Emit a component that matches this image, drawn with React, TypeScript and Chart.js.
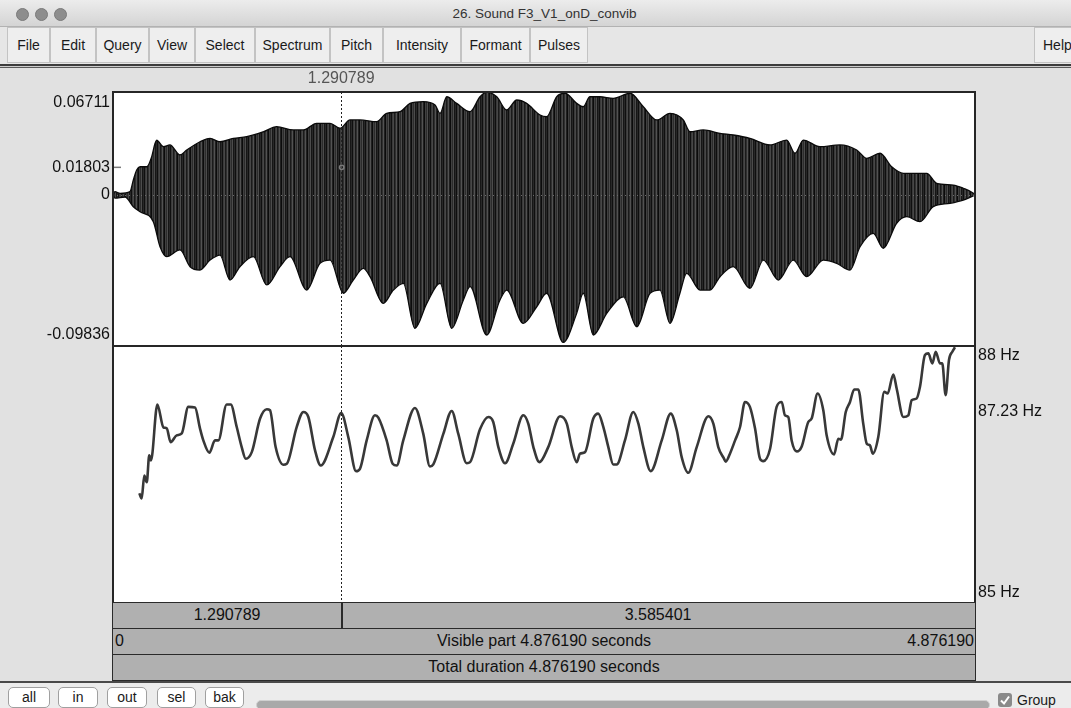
import React, { useEffect, useRef } from "react";
import { Chart, registerables } from "chart.js";
Chart.register(...registerables);

// ---------- data ----------
const DURATION = 4.87619;
const CURSOR = 1.290789;
const CURSOR_VALUE = 0.01803;
const WAVE_MIN = -0.09836;
const WAVE_MAX = 0.06711;
const waveTicks = [0.06711, 0.01803, 0, -0.09836];
const waveTickLabels = ["0.06711", "0.01803", "0", "-0.09836"];
const PITCH_MIN = 85;
const PITCH_MAX = 88;
const pitchTicks = [88, 87.23, 85];
const pitchTickLabels = ["88 Hz", "87.23 Hz", "85 Hz"];
const TITLE = "26. Sound F3_V1_onD_convib";
const menuItems = ["File", "Edit", "Query", "View", "Select", "Spectrum", "Pitch", "Intensity", "Formant", "Pulses"];
const toolButtons = ["all", "in", "out", "sel", "bak"];

// waveform envelope [time s, amplitude]
const waveUpper: [number, number][] = [
  [0, 0], [0.011, 0.0022], [0.04, 0.0011], [0.096, 0.0022], [0.115, 0.0098],
  [0.134, 0.0163], [0.153, 0.0184], [0.191, 0.0184], [0.219, 0.025], [0.238, 0.0337],
  [0.247, 0.0358], [0.285, 0.0315], [0.322, 0.0326], [0.379, 0.0261], [0.417, 0.0293],
  [0.492, 0.0347], [0.549, 0.0369], [0.605, 0.0347], [0.681, 0.0369], [0.756, 0.038],
  [0.85, 0.0412], [0.926, 0.0445], [1.02, 0.0424], [1.077, 0.0424], [1.152, 0.0467],
  [1.228, 0.0467], [1.284, 0.0435], [1.341, 0.0489], [1.397, 0.0489], [1.492, 0.0478],
  [1.548, 0.0532], [1.624, 0.0543], [1.68, 0.0597], [1.755, 0.0608], [1.822, 0.0586],
  [1.85, 0.0532], [1.888, 0.064], [1.944, 0.0597], [2.02, 0.0543], [2.076, 0.064],
  [2.114, 0.0671], [2.171, 0.064], [2.227, 0.0554], [2.284, 0.0619], [2.34, 0.0597],
  [2.416, 0.0521], [2.453, 0.051], [2.51, 0.064], [2.557, 0.0663], [2.623, 0.0597],
  [2.66, 0.0575], [2.698, 0.064], [2.755, 0.064], [2.83, 0.063], [2.925, 0.0663],
  [3.0, 0.0575], [3.076, 0.0489], [3.151, 0.0532], [3.226, 0.0489], [3.264, 0.0412],
  [3.339, 0.0424], [3.434, 0.0402], [3.509, 0.0391], [3.603, 0.0369], [3.717, 0.0326],
  [3.811, 0.0358], [3.858, 0.0272], [3.905, 0.0358], [3.999, 0.0315], [4.112, 0.0326],
  [4.207, 0.0293], [4.264, 0.0239], [4.339, 0.0272], [4.405, 0.0184], [4.471, 0.0141],
  [4.546, 0.0141], [4.603, 0.0141], [4.66, 0.0076], [4.753, 0.0065], [4.81, 0.0044],
  [4.867, 0.0011], [4.876, 0],
];
const waveLower: [number, number][] = [
  [0, 0], [0.011, -0.002], [0.068, -0.0013], [0.115, -0.0076], [0.153, -0.0109],
  [0.228, -0.0174], [0.266, -0.0337], [0.304, -0.0402], [0.379, -0.0358], [0.436, -0.0467],
  [0.492, -0.0489], [0.549, -0.0424], [0.605, -0.0391], [0.662, -0.0554], [0.718, -0.0467],
  [0.794, -0.0402], [0.87, -0.0586], [0.945, -0.0467], [1.001, -0.0402], [1.096, -0.0619],
  [1.171, -0.0445], [1.228, -0.0424], [1.303, -0.064], [1.359, -0.0554], [1.416, -0.0478],
  [1.454, -0.0532], [1.529, -0.0706], [1.586, -0.0619], [1.642, -0.0575], [1.708, -0.0868],
  [1.775, -0.0706], [1.85, -0.0575], [1.916, -0.0868], [1.982, -0.0684], [2.02, -0.0597],
  [2.114, -0.0912], [2.189, -0.0684], [2.227, -0.0619], [2.321, -0.0836], [2.397, -0.0728],
  [2.453, -0.064], [2.547, -0.096], [2.623, -0.0771], [2.66, -0.064], [2.717, -0.0912],
  [2.793, -0.0771], [2.887, -0.0663], [2.963, -0.0858], [3.038, -0.064], [3.094, -0.0619],
  [3.151, -0.0836], [3.207, -0.064], [3.245, -0.051], [3.321, -0.0619], [3.377, -0.0619],
  [3.434, -0.0532], [3.509, -0.0467], [3.603, -0.0608], [3.679, -0.0424], [3.764, -0.0554],
  [3.848, -0.0424], [3.924, -0.0532], [4.018, -0.0424], [4.094, -0.0445], [4.169, -0.0489],
  [4.226, -0.0337], [4.301, -0.025], [4.357, -0.0347], [4.433, -0.0184], [4.49, -0.0141],
  [4.565, -0.0174], [4.64, -0.0076], [4.735, -0.0054], [4.81, -0.0033], [4.876, 0],
];

// pitch contour [time s, Hz]
const pitchContour: [number, number][] = [
  [0.149, 86.281], [0.162, 86.219], [0.177, 86.488], [0.191, 86.41], [0.205, 86.723],
  [0.215, 86.664], [0.251, 87.317], [0.285, 87.051], [0.304, 87.039], [0.326, 86.878],
  [0.36, 86.957], [0.389, 86.98], [0.426, 87.289], [0.464, 87.282], [0.492, 87.039],
  [0.511, 86.898], [0.545, 86.754], [0.577, 86.898], [0.596, 86.898], [0.643, 87.317],
  [0.666, 87.317], [0.7, 87.054], [0.728, 86.82], [0.751, 86.684], [0.785, 86.761],
  [0.832, 87.153], [0.87, 87.262], [0.888, 87.25], [0.92, 86.82], [0.963, 86.614],
  [0.983, 86.625], [1.039, 87.054], [1.077, 87.23], [1.105, 87.171], [1.143, 86.781],
  [1.175, 86.605], [1.246, 86.937], [1.291, 87.218], [1.331, 86.937], [1.375, 86.539],
  [1.397, 86.567], [1.435, 86.898], [1.482, 87.191], [1.501, 87.164], [1.548, 86.898],
  [1.582, 86.625], [1.605, 86.605], [1.642, 86.898], [1.708, 87.277], [1.755, 86.977],
  [1.793, 86.594], [1.812, 86.617], [1.869, 86.977], [1.916, 87.242], [1.953, 86.977],
  [2.001, 86.632], [2.02, 86.644], [2.076, 87.027], [2.123, 87.171], [2.151, 87.113],
  [2.18, 86.82], [2.218, 86.632], [2.264, 86.86], [2.321, 87.191], [2.349, 87.094],
  [2.378, 86.82], [2.412, 86.644], [2.462, 86.82], [2.529, 87.18], [2.567, 87.094],
  [2.595, 86.82], [2.623, 86.644], [2.642, 86.743], [2.67, 86.761], [2.717, 87.153],
  [2.745, 87.211], [2.774, 87.054], [2.802, 86.82], [2.83, 86.617], [2.849, 86.617],
  [2.896, 86.898], [2.943, 87.23], [2.972, 87.094], [3.0, 86.82], [3.042, 86.539],
  [3.104, 86.898], [3.155, 87.211], [3.189, 87.016], [3.217, 86.703], [3.254, 86.52],
  [3.302, 86.82], [3.368, 87.18], [3.396, 87.094], [3.424, 86.82], [3.455, 86.69],
  [3.466, 86.65], [3.49, 86.743], [3.519, 86.898], [3.547, 87.054], [3.575, 87.347],
  [3.603, 87.289], [3.632, 87.036], [3.66, 86.684], [3.679, 86.656], [3.717, 86.801],
  [3.754, 87.289], [3.783, 87.347], [3.801, 87.191], [3.82, 87.171], [3.839, 86.898],
  [3.868, 86.77], [3.896, 86.828], [3.933, 87.113], [3.952, 87.153], [3.986, 87.446],
  [4.018, 87.25], [4.037, 86.957], [4.079, 86.734], [4.103, 86.918], [4.118, 86.907],
  [4.145, 87.23], [4.169, 87.347], [4.193, 87.493], [4.216, 87.493], [4.244, 87.094],
  [4.264, 86.86], [4.282, 86.84], [4.298, 86.743], [4.329, 86.937], [4.363, 87.464],
  [4.382, 87.446], [4.414, 87.668], [4.433, 87.504], [4.471, 87.171], [4.499, 87.191],
  [4.518, 87.367], [4.546, 87.387], [4.565, 87.523], [4.593, 87.895], [4.612, 87.914],
  [4.635, 87.797], [4.654, 87.933], [4.678, 87.797], [4.691, 87.797], [4.71, 87.426],
  [4.729, 87.836], [4.748, 87.933], [4.763, 87.985],
];

// ---------- layout ----------
const W = 1071;
const H = 708;
const PLOT_L = 113;
const PLOT_R = 975;
const WAVE_T = 92;
const SPLIT = 346;
const PITCH_B = 603;
const ROW_H = 26;
const FONT = '"Liberation Sans", Arial, Helvetica, sans-serif';
const menuEdges = [7, 50, 96, 149, 195, 255, 330, 383, 461, 530, 588];
const buttonBoxes: [number, number][] = [[8, 50], [58, 98], [107, 147], [157, 196], [205, 244]];
const waveTickAlign: CanvasTextBaseline[] = ["top", "middle", "middle", "bottom"];
const pitchTickAlign: CanvasTextBaseline[] = ["top", "middle", "bottom"];

const WAVE_CANVAS_TOP = 66;
const WAVE_CANVAS_H = 290;
const PITCH_CANVAS_TOP = 340;
const PITCH_CANVAS_H = 272;

function makePattern(): CanvasPattern | string {
  const c = document.createElement("canvas");
  const shades = ["#282828", "#0f0f0f", "#3a3a3a", "#474747", "#1a1a1a", "#303030", "#525252", "#202020", "#0b0b0b", "#404040", "#2c2c2c", "#4c4c4c", "#161616"];
  c.width = shades.length;
  c.height = 1;
  const g = c.getContext("2d")!;
  shades.forEach((s, i) => {
    g.fillStyle = s;
    g.fillRect(i, 0, 1, 1);
  });
  const p = g.createPattern(c, "repeat");
  return p || "#333";
}

function drawCursor(chart: any) {
  const { ctx, chartArea, scales } = chart;
  const x = Math.round(scales.x.getPixelForValue(CURSOR)) + 0.5;
  ctx.save();
  ctx.strokeStyle = "#222";
  ctx.lineWidth = 1;
  ctx.setLineDash([2, 2]);
  ctx.beginPath();
  ctx.moveTo(x, chartArea.top);
  ctx.lineTo(x, chartArea.bottom);
  ctx.stroke();
  ctx.restore();
}

function drawFrame(chart: any) {
  const { ctx, chartArea } = chart;
  ctx.save();
  ctx.strokeStyle = "#262626";
  ctx.lineWidth = 2;
  ctx.strokeRect(chartArea.left, chartArea.top, chartArea.right - chartArea.left, chartArea.bottom - chartArea.top);
  ctx.restore();
}

const whiteBg = {
  id: "whiteBg",
  beforeDatasetsDraw(chart: any) {
    const { ctx, chartArea } = chart;
    ctx.save();
    ctx.fillStyle = "#ffffff";
    ctx.fillRect(chartArea.left, chartArea.top, chartArea.right - chartArea.left, chartArea.bottom - chartArea.top);
    ctx.restore();
  },
};

const waveDecor = {
  id: "waveDecor",
  afterDatasetsDraw(chart: any) {
    const { ctx, chartArea, scales } = chart;
    const y0 = Math.round(scales.y.getPixelForValue(0)) + 0.5;
    ctx.save();
    ctx.strokeStyle = "#6a6a6a";
    ctx.lineWidth = 1;
    ctx.setLineDash([1, 3]);
    ctx.beginPath();
    ctx.moveTo(chartArea.left, y0);
    ctx.lineTo(chartArea.right, y0);
    ctx.stroke();
    ctx.restore();
    drawCursor(chart);
    const yv = scales.y.getPixelForValue(CURSOR_VALUE);
    const xc = scales.x.getPixelForValue(CURSOR);
    ctx.save();
    ctx.strokeStyle = "#7a7a7a";
    ctx.lineWidth = 1.5;
    ctx.beginPath();
    ctx.moveTo(chartArea.left - 1, yv);
    ctx.lineTo(chartArea.left + 8, yv);
    ctx.stroke();
    ctx.beginPath();
    ctx.arc(xc + 0.5, yv, 2.2, 0, Math.PI * 2);
    ctx.stroke();
    ctx.restore();
    drawFrame(chart);
    ctx.save();
    ctx.font = `16px ${FONT}`;
    ctx.fillStyle = "#111";
    ctx.textAlign = "right";
    waveTicks.forEach((v, i) => {
      const y = scales.y.getPixelForValue(v);
      const base = waveTickAlign[i];
      ctx.textBaseline = base;
      const dy = base === "top" ? 3 : base === "bottom" ? -3 : 0;
      ctx.fillText(waveTickLabels[i], chartArea.left - 3, y + dy);
    });
    ctx.fillStyle = "#555";
    ctx.textAlign = "center";
    ctx.textBaseline = "bottom";
    ctx.fillText(CURSOR.toFixed(6), xc, chartArea.top - 5);
    ctx.restore();
  },
};

const pitchDecor = {
  id: "pitchDecor",
  afterDatasetsDraw(chart: any) {
    const { ctx, chartArea, scales } = chart;
    drawCursor(chart);
    drawFrame(chart);
    ctx.save();
    ctx.font = `16px ${FONT}`;
    ctx.fillStyle = "#111";
    ctx.textAlign = "left";
    pitchTicks.forEach((v, i) => {
      const y = scales.y.getPixelForValue(v);
      const base = pitchTickAlign[i];
      ctx.textBaseline = base;
      const dy = base === "top" ? 2 : base === "bottom" ? -2 : 0;
      ctx.fillText(pitchTickLabels[i], chartArea.right + 3, y + dy);
    });
    ctx.restore();
  },
};

export default function App() {
  const waveRef = useRef<HTMLCanvasElement>(null);
  const pitchRef = useRef<HTMLCanvasElement>(null);

  useEffect(() => {
    const pattern = makePattern();
    const commonX = { type: "linear" as const, min: 0, max: DURATION, display: false };
    const envStyle = {
      fill: "origin",
      backgroundColor: pattern as any,
      borderColor: "#0a0a0a",
      borderWidth: 1.3,
      pointRadius: 0,
      cubicInterpolationMode: "monotone" as const,
    };
    const waveChart = new Chart(waveRef.current!, {
      type: "line",
      data: {
        datasets: [
          { data: waveUpper.map(([t, v]) => ({ x: t, y: v })), ...envStyle },
          { data: waveLower.map(([t, v]) => ({ x: t, y: v })), ...envStyle },
        ],
      },
      options: {
        animation: false,
        responsive: false,
        maintainAspectRatio: false,
        events: [],
        layout: {
          padding: {
            left: PLOT_L,
            right: W - PLOT_R,
            top: WAVE_T - WAVE_CANVAS_TOP,
            bottom: WAVE_CANVAS_TOP + WAVE_CANVAS_H - SPLIT,
          },
        },
        scales: {
          x: commonX,
          y: { type: "linear", min: WAVE_MIN, max: WAVE_MAX, display: false },
        },
        plugins: { legend: { display: false }, tooltip: { enabled: false } },
      },
      plugins: [whiteBg, waveDecor],
    });

    const pitchChart = new Chart(pitchRef.current!, {
      type: "line",
      data: {
        datasets: [
          {
            data: pitchContour.map(([t, v]) => ({ x: t, y: v })),
            borderColor: "#383838",
            borderWidth: 2.6,
            pointRadius: 0,
            cubicInterpolationMode: "monotone",
            fill: false,
          },
        ],
      },
      options: {
        animation: false,
        responsive: false,
        maintainAspectRatio: false,
        events: [],
        layout: {
          padding: {
            left: PLOT_L,
            right: W - PLOT_R,
            top: SPLIT - PITCH_CANVAS_TOP,
            bottom: PITCH_CANVAS_TOP + PITCH_CANVAS_H - PITCH_B,
          },
        },
        scales: {
          x: commonX,
          y: { type: "linear", min: PITCH_MIN, max: PITCH_MAX, display: false },
        },
        plugins: { legend: { display: false }, tooltip: { enabled: false } },
      },
      plugins: [whiteBg, pitchDecor],
    });

    return () => {
      waveChart.destroy();
      pitchChart.destroy();
    };
  }, []);

  const plotW = PLOT_R - PLOT_L;
  const cursorPx = (CURSOR / DURATION) * plotW;
  const txt: React.CSSProperties = { fontFamily: FONT, fontSize: 16, color: "#111" };
  const rowBase: React.CSSProperties = {
    position: "absolute",
    left: PLOT_L - 1,
    width: plotW + 2,
    height: ROW_H + 1,
    boxSizing: "border-box",
    border: "1.5px solid #2a2a2a",
    background: "#b0b0b0",
    ...txt,
    lineHeight: `${ROW_H - 2}px`,
  };

  return (
    <div style={{ position: "fixed", left: 0, top: 0, width: W, height: H, overflow: "hidden", background: "#e1e1e1", fontFamily: FONT }}>
      <div style={{ position: "absolute", left: 0, top: 0, width: W, height: 27, background: "linear-gradient(#ececec, #d4d4d4)", borderBottom: "1px solid #b2b2b2", boxSizing: "border-box" }}>
        {[22, 41, 60].map((cx) => (
          <div key={cx} style={{ position: "absolute", left: cx - 6.5, top: 8, width: 13, height: 13, borderRadius: "50%", background: "#8d8d8d", border: "1px solid #7a7a7a", boxSizing: "border-box" }} />
        ))}
        <div style={{ position: "absolute", left: 0, width: W + 18, top: 0, height: 27, lineHeight: "27px", textAlign: "center", fontSize: 13.5, color: "#333" }}>{TITLE}</div>
      </div>
      <div style={{ position: "absolute", left: 0, top: 27, width: W, height: 37, background: "#e6e6e6" }}>
        {menuItems.map((m, i) => (
          <div key={m} style={{ position: "absolute", left: menuEdges[i], top: 0, width: menuEdges[i + 1] - menuEdges[i], height: 36, boxSizing: "border-box", border: "1px solid #c3c3c3", background: "#eeeeee", textAlign: "center", lineHeight: "34px", fontSize: 14, color: "#1a1a1a" }}>{m}</div>
        ))}
        <div style={{ position: "absolute", left: 1034, top: 0, width: 60, height: 36, boxSizing: "border-box", border: "1px solid #c3c3c3", background: "#eeeeee", lineHeight: "34px", fontSize: 14, color: "#1a1a1a", paddingLeft: 8 }}>Help</div>
      </div>
      <div style={{ position: "absolute", left: 0, top: 64, width: W, height: 4, boxSizing: "border-box", borderTop: "2px solid #3c3c3c", borderBottom: "1px solid #5a5a5a", background: "#cdcdcd" }} />

      <canvas ref={waveRef} width={W} height={WAVE_CANVAS_H} style={{ position: "absolute", left: 0, top: WAVE_CANVAS_TOP, width: W, height: WAVE_CANVAS_H }} />
      <canvas ref={pitchRef} width={W} height={PITCH_CANVAS_H} style={{ position: "absolute", left: 0, top: PITCH_CANVAS_TOP, width: W, height: PITCH_CANVAS_H }} />

      <div style={{ ...rowBase, top: PITCH_B - 1 }}>
        <div style={{ position: "absolute", left: 0, top: 0, width: cursorPx, height: "100%", borderRight: "2px solid #2a2a2a", textAlign: "center" }}>{CURSOR.toFixed(6)}</div>
        <div style={{ position: "absolute", left: cursorPx, right: 0, top: 0, height: "100%", textAlign: "center" }}>{(DURATION - CURSOR).toFixed(6)}</div>
      </div>
      <div style={{ ...rowBase, top: PITCH_B - 1 + ROW_H }}>
        <span style={{ position: "absolute", left: 2 }}>0</span>
        <div style={{ position: "absolute", left: 0, right: 0, textAlign: "center" }}>{`Visible part ${DURATION.toFixed(6)} seconds`}</div>
        <span style={{ position: "absolute", right: 1 }}>{DURATION.toFixed(6)}</span>
      </div>
      <div style={{ ...rowBase, top: PITCH_B - 1 + 2 * ROW_H, textAlign: "center" }}>{`Total duration ${DURATION.toFixed(6)} seconds`}</div>

      <div style={{ position: "absolute", left: 0, top: 681, width: W, height: H - 681, background: "#ececec", borderTop: "2px solid #4a4a4a", boxSizing: "border-box" }}>
        {toolButtons.map((b, i) => (
          <div key={b} style={{ position: "absolute", left: buttonBoxes[i][0], top: 4, width: buttonBoxes[i][1] - buttonBoxes[i][0], height: 21, boxSizing: "border-box", border: "1px solid #a0a0a0", borderRadius: 5, background: "#ffffff", textAlign: "center", lineHeight: "19px", fontSize: 14, color: "#1a1a1a" }}>{b}</div>
        ))}
        <div style={{ position: "absolute", left: 256, top: 17, width: 734, height: 10, borderRadius: 5, background: "#a9a9a9", border: "1px solid #d0d0d0", boxSizing: "border-box" }} />
        <div style={{ position: "absolute", left: 998, top: 10, width: 14, height: 14, borderRadius: 3, background: "#8a8a8a" }}>
          <svg width="14" height="14" viewBox="0 0 14 14" style={{ position: "absolute", left: 0, top: 0 }}>
            <path d="M3 7.5 L6 10.5 L11 3.5" stroke="#fff" strokeWidth="2" fill="none" />
          </svg>
        </div>
        <div style={{ position: "absolute", left: 1017, top: 8, fontSize: 14, lineHeight: "18px", color: "#1a1a1a" }}>Group</div>
      </div>
    </div>
  );
}
